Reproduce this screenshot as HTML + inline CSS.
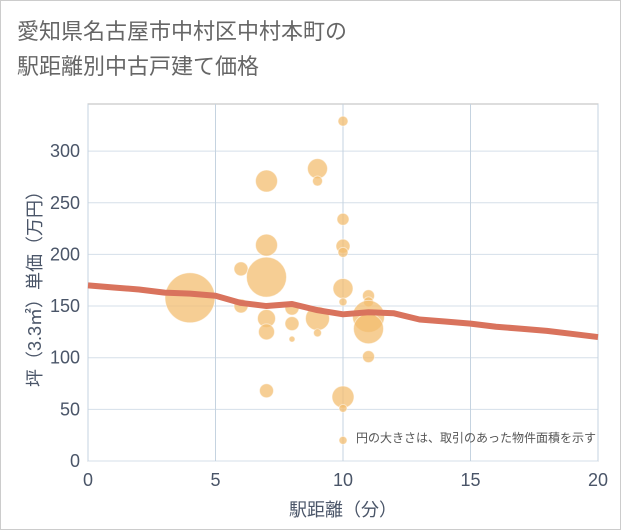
<!DOCTYPE html>
<html><head><meta charset="utf-8"><style>
body{margin:0;background:#fff;}
#wrap{position:relative;width:621px;height:530px;box-sizing:border-box;border:1px solid #ccc;background:#fff;font-family:"Liberation Sans","Noto Sans CJK JP",sans-serif;}
.title{position:absolute;left:16px;top:13px;font-size:22px;line-height:35px;color:#666;}
</style></head><body>
<div id="wrap">
<div class="title">愛知県名古屋市中村区中村本町の<br>駅距離別中古戸建て価格</div>
<svg id="svg" width="621" height="530" style="position:absolute;left:0;top:0"></svg>
</div>
<script>
const xTicks=[0,5,10,15,20];
const yTicks=[0,50,100,150,200,250,300];
const bubbleX=[4,6,6,7,7,7,7,7,7,8,8,8,9,9,9,9,10,10,10,10,10,10,10,10,10,11,11,11,11,11];
const bubbleY=[158,186,150,271,209,178,138,125,68,148,133,118,283,271,138,124,329,234,208,202,167,154,62,51,20,160,154,140,128,101];
const bubbleR=[25,7,7,11,11,20,9,8,7,7,7,3,10,5,12,4,5,6,7,5,10,4,11,4,4,6,5,16,15,6];
const lineX=[0,1,2,3,4,5,6,7,8,9,10,11,12,13,14,15,16,17,18,19,20];
const lineY=[170,168,166,163,162,160,153,150,152,146,142,144,143,137,135,133,130,128,126,123,120];
const L=87,R=597,T=103,B=460;
const sx=v=>L+(v-0)/20*(R-L);
const sy=v=>B-v/345.6*(B-T);
const svg=document.getElementById('svg');
const NS='http://www.w3.org/2000/svg';
const TC='#4a5568';
function mk(t,a){const e=document.createElementNS(NS,t);for(const k in a)e.setAttribute(k,a[k]);svg.appendChild(e);return e;}
let e=mk('rect',{x:L,y:T,width:R-L,height:B-T,fill:'#fff',stroke:'#bbb','stroke-width':1});


yTicks.forEach(v=>{
 let g=mk('line',{x1:L,x2:R,y1:sy(v),y2:sy(v),stroke:'#d5dfe9','stroke-width':1});
 
 
 let t=mk('text',{x:L-8,y:sy(v)+6,'text-anchor':'end','font-size':18,fill:TC});
 t.textContent=v;
 
 
});
xTicks.forEach(v=>{
 let g=mk('line',{x1:sx(v),x2:sx(v),y1:T,y2:B,stroke:'#c5d3e0','stroke-width':1});
 
 
 let t=mk('text',{x:sx(v),y:B+25,'text-anchor':'middle','font-size':18,fill:TC});
 t.textContent=v;
 
 
});
bubbleX.forEach((x,i)=>{
 let c=mk('circle',{cx:sx(x),cy:sy(bubbleY[i]),r:bubbleR[i],fill:'rgba(243,190,112,0.75)',stroke:'rgba(255,255,255,0.5)','stroke-width':1});
 
 
});
let p=mk('polyline',{points:lineX.map((x,i)=>sx(x)+','+sy(lineY[i])).join(' '),fill:'none',stroke:'#d9735d','stroke-width':6,'stroke-linejoin':'round'});


let n=mk('text',{x:595,y:441,'text-anchor':'end','font-size':12,fill:'#555'});
n.textContent='円の大きさは、取引のあった物件面積を示す';


let xt=mk('text',{x:(L+R)/2,y:515,'text-anchor':'middle','font-size':18,fill:TC});
xt.textContent='駅距離（分）';


let yt=mk('text',{x:0,y:0,'text-anchor':'middle','font-size':18,fill:TC,transform:'translate(40,'+((T+B)/2+2)+') rotate(-90)'});
yt.textContent='坪（3.3㎡）単価（万円）';


</script>
</body></html>
